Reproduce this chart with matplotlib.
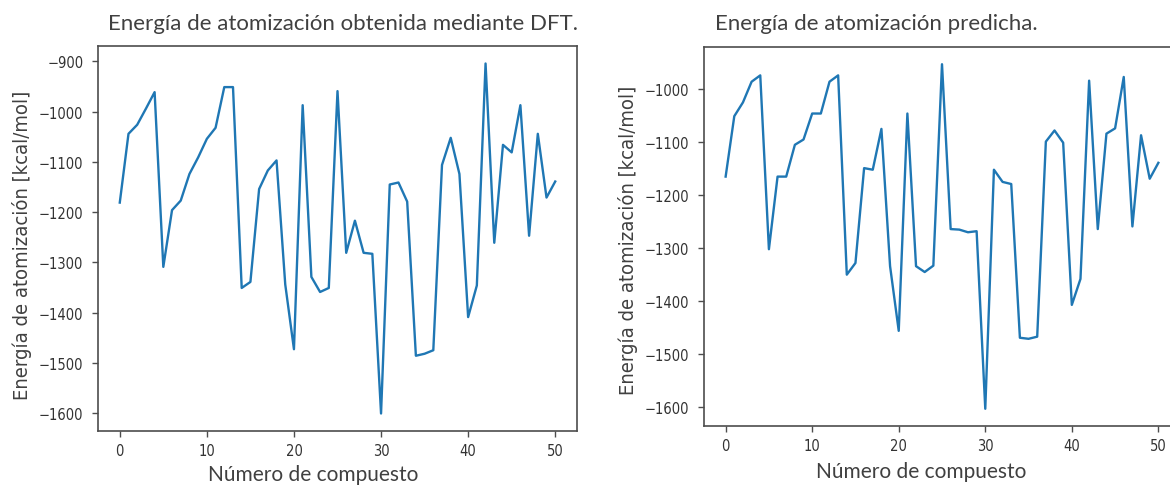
import matplotlib
matplotlib.use('Agg')
import matplotlib.pyplot as plt

# atomization energy per compound, DFT reference vs model prediction (kcal/mol)
compound_idx = list(range(51))
e_dft = [-1181, -1044, -1026, -994, -961, -1309, -1196, -1177, -1124, -1091,
         -1054, -1032, -951, -951, -1351, -1339, -1154, -1117, -1097, -1344,
         -1473, -987, -1329, -1359, -1351, -959, -1281, -1217, -1281, -1283,
         -1601, -1145, -1141, -1179, -1486, -1482, -1475, -1106, -1052, -1124,
         -1409, -1346, -904, -1261, -1066, -1081, -987, -1247, -1044, -1171, -1139]
e_pred = [-1165, -1051, -1025, -986, -974, -1302, -1165, -1165, -1105, -1095,
          -1046, -1046, -986, -974, -1350, -1328, -1149, -1152, -1075, -1334,
          -1456, -1046, -1334, -1345, -1333, -953, -1264, -1265, -1270, -1268,
          -1603, -1152, -1175, -1179, -1469, -1471, -1467, -1099, -1078, -1101,
          -1407, -1358, -984, -1264, -1084, -1074, -977, -1259, -1087, -1169, -1139]

title_left = 'Energía de atomización obtenida mediante DFT.'
title_right = 'Energía de atomización predicha.'
x_label = 'Número de compuesto'
y_label = 'Energía de atomización [kcal/mol]'

TEXT_FONT = ['Liberation Sans Narrow', 'Lato', 'DejaVu Sans']
plt.rcParams['font.family'] = ['DejaVu Sans Condensed', 'Liberation Sans Narrow', 'DejaVu Sans']
plt.rcParams['font.stretch'] = 'condensed'

W, H = 1170, 489
fig = plt.figure(figsize=(W / 100, H / 100), dpi=100)


def px(x, y):
    return x / W, 1 - y / H


def style_axes(ax):
    for sp in ax.spines.values():
        sp.set_color('#4d4d4d')
        sp.set_linewidth(1.2)
    ax.tick_params(axis='both', colors='#4d4d4d', labelcolor='#333333',
                   labelsize=10.5, length=4.5, width=1.0)
    ax.tick_params(axis='y', pad=6)
    ax.tick_params(axis='x', pad=4)


ax1 = fig.add_axes([98 / W, 1 - 432 / H, 479 / W, 385 / H])
ax1.plot(compound_idx, e_dft, color='#1f77b4', lw=1.7)
style_axes(ax1)

ax2 = fig.add_axes([704 / W, 1 - 427 / H, 476 / W, 379 / H])
ax2.plot(compound_idx, e_pred, color='#1f77b4', lw=1.7)
style_axes(ax2)

# titles and axis labels placed in figure pixels
fig.text(*px(108, 24), title_left, family=TEXT_FONT, fontsize=16,
         color='#404040', ha='left', va='center')
fig.text(*px(715, 24), title_right, family=TEXT_FONT, fontsize=16,
         color='#404040', ha='left', va='center')
fig.text(*px(313, 475), x_label, family=TEXT_FONT, fontsize=15,
         color='#404040', ha='center', va='center')
fig.text(*px(921, 472), x_label, family=TEXT_FONT, fontsize=15,
         color='#404040', ha='center', va='center')
fig.text(*px(22, 245), y_label, fontsize=14.5, color='#404040',
         rotation=90, ha='center', va='center')
fig.text(*px(628, 240), y_label, fontsize=14.5, color='#404040',
         rotation=90, ha='center', va='center')

fig.savefig('out.png', dpi=100)
